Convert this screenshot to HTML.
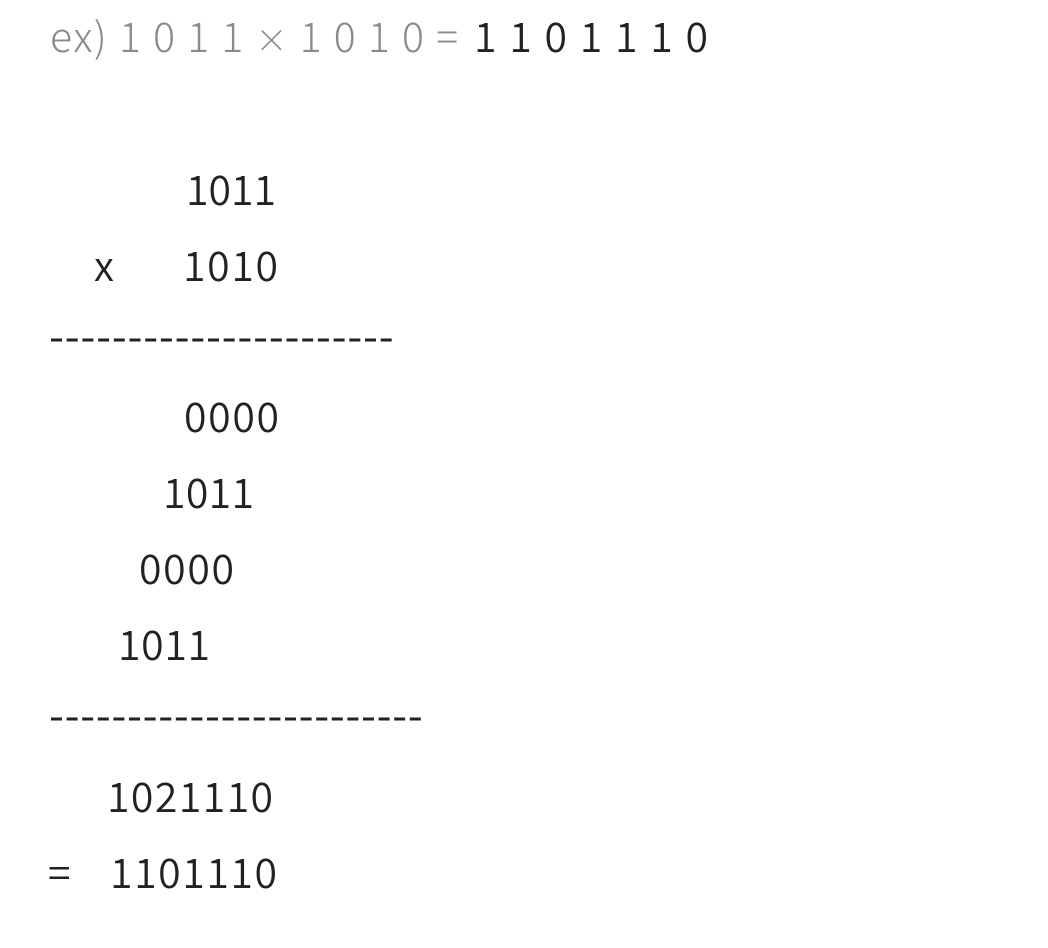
<!DOCTYPE html>
<html><head><meta charset="utf-8"><style>
html,body{margin:0;padding:0;background:#fff;width:1048px;height:948px;overflow:hidden}
svg text{font-family:"Noto Sans CJK KR","Liberation Sans",sans-serif;font-size:41px;fill:#222;font-weight:350}
</style></head><body>
<svg width="1048" height="948" viewBox="0 0 1048 948" xmlns="http://www.w3.org/2000/svg">
<text x="50" y="52" textLength="408" lengthAdjust="spacing" style="fill:#8a8a8a;font-weight:300">ex) 1 0 1 1 <tspan style="font-size:32px">×</tspan> 1 0 1 0 =</text>
<text x="474" y="52" textLength="234" lengthAdjust="spacing">1 1 0 1 1 1 0</text>
<text x="186" y="205" textLength="90" lengthAdjust="spacing">1011</text>
<text x="94" y="281">x</text>
<text x="183" y="281" textLength="95" lengthAdjust="spacing">1010</text>
<line x1="51" y1="340" x2="396" y2="340" stroke="#222" stroke-width="3" stroke-dasharray="11 4.7"/>
<text x="184" y="432" textLength="95" lengthAdjust="spacing">0000</text>
<text x="163" y="508" textLength="91" lengthAdjust="spacing">1011</text>
<text x="139" y="584" textLength="95" lengthAdjust="spacing">0000</text>
<text x="118" y="660" textLength="92" lengthAdjust="spacing">1011</text>
<line x1="51" y1="719" x2="425" y2="719" stroke="#222" stroke-width="3" stroke-dasharray="11 4.6"/>
<text x="107" y="812" textLength="166" lengthAdjust="spacing">1021110</text>
<text x="48" y="888">=</text>
<text x="110" y="888" textLength="167" lengthAdjust="spacing">1101110</text>
</svg>
</body></html>
